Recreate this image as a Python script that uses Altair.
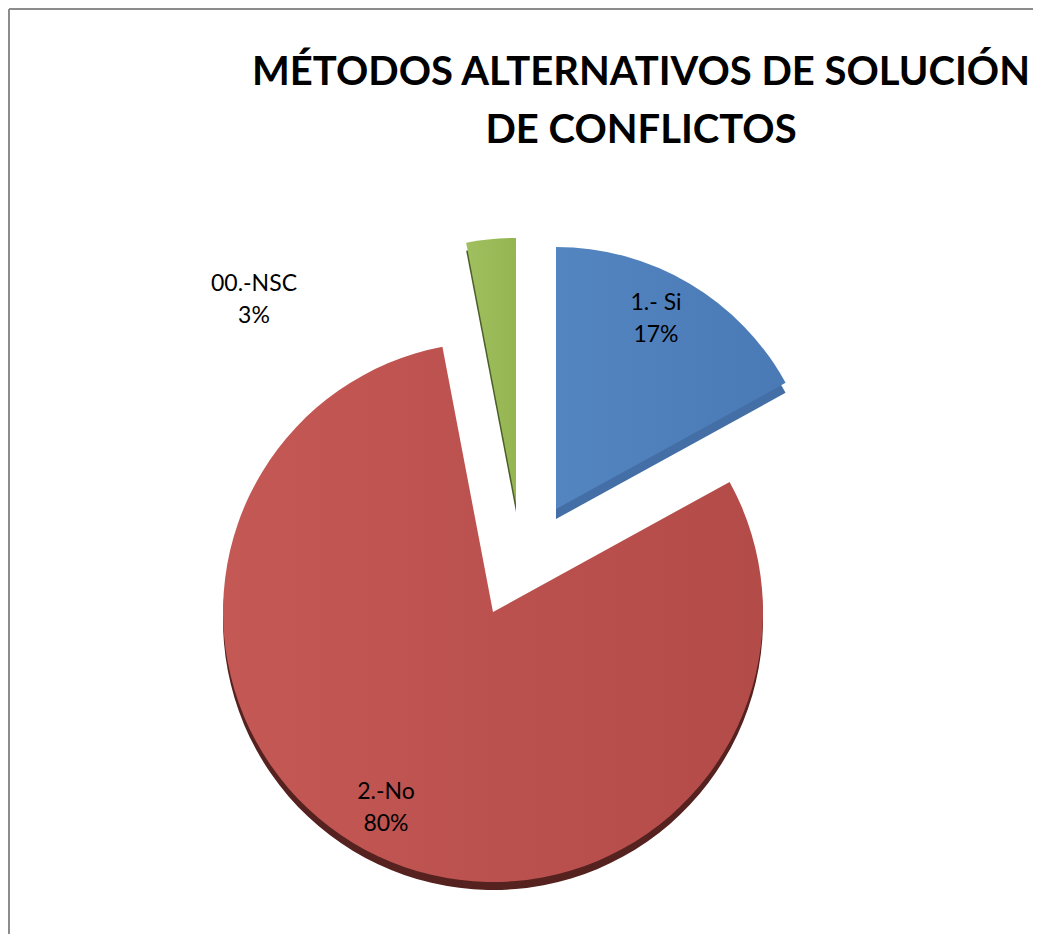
import math
import altair as alt
import pandas as pd

# ---- data ----
categories = ["1.- Si", "2.-No", "00.-NSC"]
percents = [17, 80, 3]
title_lines = ["MÉTODOS ALTERNATIVOS DE SOLUCIÓN", "DE CONFLICTOS"]

# ---- styles / layout ----
face_colors = {"1.- Si": ("#5385C1", "#4A7AB5"),
               "2.-No": ("#C45855", "#B34B48"),
               "00.-NSC": ("#A0C05F", "#95B553")}
side_colors = {"1.- Si": "#446FA6", "2.-No": "#552220", "00.-NSC": "#4A5E27"}
W, H = 1025, 926


def py(img_y):
    return img_y - 8


def px(img_x):
    return img_x - 8


# slice centre (image coords), radius, side thickness
geom = {
    "1.- Si": (556, 509, 262, 10),
    "2.-No": (493, 612, 270, 8),
    "00.-NSC": (516, 504, 266, 8),
}
# position of the first label line (image coords)
label_pos = {"1.- Si": (656, 303), "2.-No": (386, 792), "00.-NSC": (254, 284)}

df = pd.DataFrame({"cat": categories, "pct": percents, "order": list(range(len(categories)))})

base = (
    alt.Chart(df)
    .transform_window(cum="sum(pct)", sort=[alt.SortField("order")])
    .transform_calculate(start="datum.cum - datum.pct",
                         lab="[datum.cat, datum.pct + '%']")
)
theta_scale = alt.Scale(domain=[0, 100], range=[0, 2 * math.pi])

layers = []
# side (3D thickness) layers first
for c in categories:
    cx, cy, r, t = geom[c]
    layers.append(
        base.transform_filter(alt.datum.cat == c)
        .mark_arc(radius=r, color=side_colors[c])
        .encode(theta=alt.Theta("start:Q", scale=theta_scale),
                theta2=alt.Theta2("cum:Q"),
                x=alt.value(px(cx)), y=alt.value(py(cy + t)))
    )
for c in categories:
    cx, cy, r, t = geom[c]
    c1, c2 = face_colors[c]
    layers.append(
        base.transform_filter(alt.datum.cat == c)
        .mark_arc(radius=r,
                  color=alt.Gradient(gradient="linear",
                                     stops=[alt.GradientStop(color=c1, offset=0),
                                            alt.GradientStop(color=c2, offset=1)],
                                     x1=0, x2=1, y1=0, y2=0))
        .encode(theta=alt.Theta("start:Q", scale=theta_scale),
                theta2=alt.Theta2("cum:Q"),
                x=alt.value(px(cx)), y=alt.value(py(cy)))
    )
for c in categories:
    lx, ly = label_pos[c]
    layers.append(
        base.transform_filter(alt.datum.cat == c)
        .mark_text(font="Lato", fontSize=23, lineHeight=32, color="black",
                   align="center", baseline="middle")
        .encode(text=alt.Text("lab:N"), x=alt.value(px(lx)), y=alt.value(py(ly)))
    )

# chart title (two lines)
title = alt.Chart(df).transform_filter(alt.datum.order == 0).mark_text(
    font="Lato", fontSize=40, fontWeight="bold", lineHeight=58, color="black",
    align="center", baseline="alphabetic"
).encode(text=alt.value(title_lines), x=alt.value(px(641)), y=alt.value(py(85)))

# chart border (left and top edges)
border_left = alt.Chart(df).mark_rule(color="#8C8C8C", strokeWidth=2).encode(
    x=alt.value(1), y=alt.value(py(9)), y2=alt.value(H))
border_top = alt.Chart(df).mark_rule(color="#8C8C8C", strokeWidth=2).encode(
    x=alt.value(1), x2=alt.value(W), y=alt.value(py(9)))

chart = alt.layer(border_left, border_top, title, *layers).properties(
    width=W, height=H,
    padding=0,
    autosize=alt.AutoSizeParams(type="none"),
).configure_view(stroke=None)

chart.save("out.html", embed_options={"renderer": "svg", "actions": False})
